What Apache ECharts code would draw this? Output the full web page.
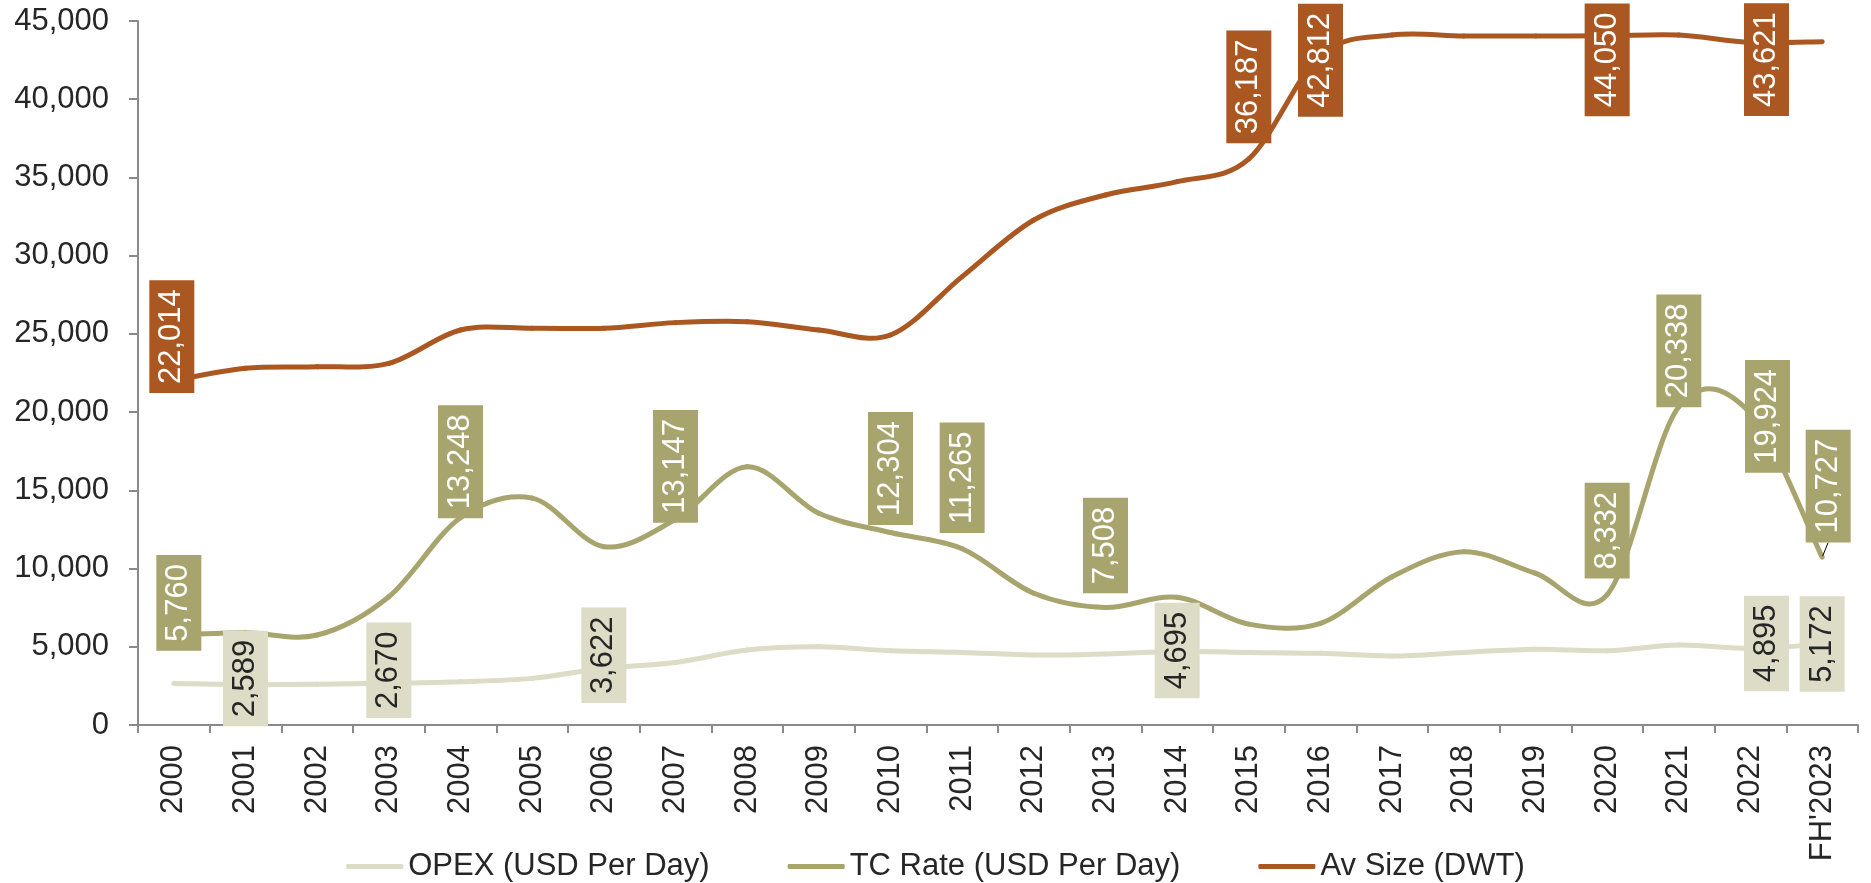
<!DOCTYPE html>
<html lang="en">
<head>
    <meta charset="UTF-8"/>
    <title>OPEX / TC Rate / Av Size</title>
    <script type="text/javascript" src="https://cdn.jsdelivr.net/npm/echarts@6/dist/echarts.min.js"></script>
    <style>
        html, body {margin: 0; padding: 0; background: #fff;}
        #chart-container {width: 1871px; height: 883px;}
    </style>
</head>
<body>
<div id="chart-container"></div>
<script type="text/javascript">
    var years = ["2000", "2001", "2002", "2003", "2004", "2005", "2006", "2007", "2008", "2009", "2010", "2011",
        "2012", "2013", "2014", "2015", "2016", "2017", "2018", "2019", "2020", "2021", "2022", "FH'2023"];
    var opex = [2660, 2589, 2600, 2670, 2770, 2980, 3622, 4000, 4790, 5000, 4750, 4640,
        4470, 4540, 4695, 4640, 4580, 4410, 4640, 4840, 4750, 5110, 4895, 5172];
    var tcRate = [5760, 5900, 5750, 8200, 13248, 14500, 11400, 13147, 16500, 13530, 12304, 11265,
        8420, 7508, 8160, 6450, 6500, 9480, 11080, 9700, 8332, 20338, 19924, 10727];
    var avSize = [22014, 22800, 22900, 23120, 25250, 25360, 25360, 25720, 25780, 25250, 24930, 28660,
        32280, 33880, 34730, 36187, 42812, 44100, 44040, 44040, 44050, 44100, 43621, 43680];
    var yTicks = {min: 0, max: 45000, step: 5000};

    // which points carry a label, and where its box sits relative to the point (px)
    var opexLabelAt = {1: [0, -6], 3: [0, -13], 6: [0, -13], 14: [0, -1], 22: [16, -5], 23: [0, 0]};
    var tcLabelAt = {0: [5, -32], 4: [0, -56], 7: [0, -53], 10: [0, -64], 11: [0, -71], 13: [0, -62],
        20: [0, -64], 21: [0, -56], 22: [17, 3], 23: [6, -71]};
    var avLabelAt = {0: [-2, -44], 15: [0, -72], 16: [0, 5], 20: [0, 24], 22: [16, 17]};

    var FONT = "'Liberation Sans', Arial, sans-serif";
    var TEXT = "#262626";
    var AXIS = "#8a8a8a";
    var C_OPEX = "#DDDCC6", C_TC = "#A8A46E", C_AV = "#AA5722";

    function fmt(v) {
        return Number(v).toLocaleString("en-US");
    }

    function withLabels(values, where, leaderAt) {
        return values.map(function (v, i) {
            var pos = where[i];
            if (!pos) return v;
            var item = {value: v, label: {show: true, position: [pos[0] + 1, pos[1] + 1]}};
            if (leaderAt === i) {
                item.labelLine = {show: true, lineStyle: {color: "#000", width: 1}};
            }
            return item;
        });
    }

    // office-style smoothed curve: one bezier per segment, control points at 1/6 of the neighbour chord
    function curveSeries(values, color) {
        return {
            name: "curve-" + color,
            type: "custom",
            silent: true,
            data: values.map(function (v, i) { return [i, v]; }),
            encode: {x: 0, y: 1},
            renderItem: function (params, api) {
                if (params.dataIndex !== 0) return null;
                var pts = values.map(function (v, i) { return api.coord([i, v]); });
                var parts = [];
                for (var i = 0; i < pts.length - 1; i++) {
                    var p0 = pts[i - 1] || pts[i], p1 = pts[i], p2 = pts[i + 1], p3 = pts[i + 2] || pts[i + 1];
                    parts.push({
                        type: "bezierCurve",
                        shape: {
                            x1: p1[0], y1: p1[1], x2: p2[0], y2: p2[1],
                            cpx1: p1[0] + (p2[0] - p0[0]) / 6, cpy1: p1[1] + (p2[1] - p0[1]) / 6,
                            cpx2: p2[0] - (p3[0] - p1[0]) / 6, cpy2: p2[1] - (p3[1] - p1[1]) / 6
                        },
                        style: {stroke: color, lineWidth: 5, fill: "none", lineCap: "round"}
                    });
                }
                return {type: "group", children: parts};
            }
        };
    }

    function labelSeries(name, color, values, where, textColor, leaderAt) {
        return {
            name: name,
            type: "line",
            symbol: "circle",
            symbolSize: 2,
            showAllSymbol: true,
            itemStyle: {color: color},
            lineStyle: {color: color, width: 0},
            emphasis: {disabled: true},
            label: {
                show: false,
                rotate: 90,
                align: "center",
                verticalAlign: "middle",
                fontFamily: FONT,
                fontSize: 31,
                lineHeight: 33,
                padding: [6, 9],
                color: textColor,
                backgroundColor: color,
                formatter: function (p) {
                    return fmt(p.value);
                }
            },
            data: withLabels(values, where, leaderAt)
        };
    }

    var chart = echarts.init(document.getElementById("chart-container"), null, {renderer: "canvas"});
    chart.setOption({
        animation: false,
        backgroundColor: "#fff",
        textStyle: {fontFamily: FONT},
        grid: {left: 138, right: 13, top: 21, bottom: 158, containLabel: false},
        legend: {
            bottom: -4,
            left: "center",
            icon: "roundRect",
            itemWidth: 57,
            itemHeight: 5,
            itemGap: 78,
            textStyle: {fontFamily: FONT, fontSize: 31, color: TEXT},
            data: ["OPEX (USD Per Day)", "TC Rate (USD Per Day)", "Av Size (DWT)"]
        },
        xAxis: {
            type: "category",
            boundaryGap: true,
            data: years,
            axisLine: {lineStyle: {color: AXIS, width: 2}},
            axisTick: {show: true, length: 8, interval: 0, lineStyle: {color: AXIS, width: 2}},
            axisLabel: {rotate: 90, interval: 0, margin: 20, fontFamily: FONT, fontSize: 31, color: TEXT}
        },
        yAxis: {
            type: "value",
            min: yTicks.min,
            max: yTicks.max,
            interval: yTicks.step,
            splitLine: {show: false},
            axisLine: {show: true, lineStyle: {color: AXIS, width: 2}},
            axisTick: {show: true, length: 9, lineStyle: {color: AXIS, width: 2}},
            axisLabel: {margin: 29, fontFamily: FONT, fontSize: 31, color: TEXT, formatter: fmt}
        },
        series: [
            curveSeries(opex, C_OPEX),
            curveSeries(tcRate, C_TC),
            curveSeries(avSize, C_AV),
            labelSeries("OPEX (USD Per Day)", C_OPEX, opex, opexLabelAt, TEXT),
            labelSeries("TC Rate (USD Per Day)", C_TC, tcRate, tcLabelAt, "#fff", 23),
            labelSeries("Av Size (DWT)", C_AV, avSize, avLabelAt, "#fff")
        ]
    });
</script>
</body>
</html>
